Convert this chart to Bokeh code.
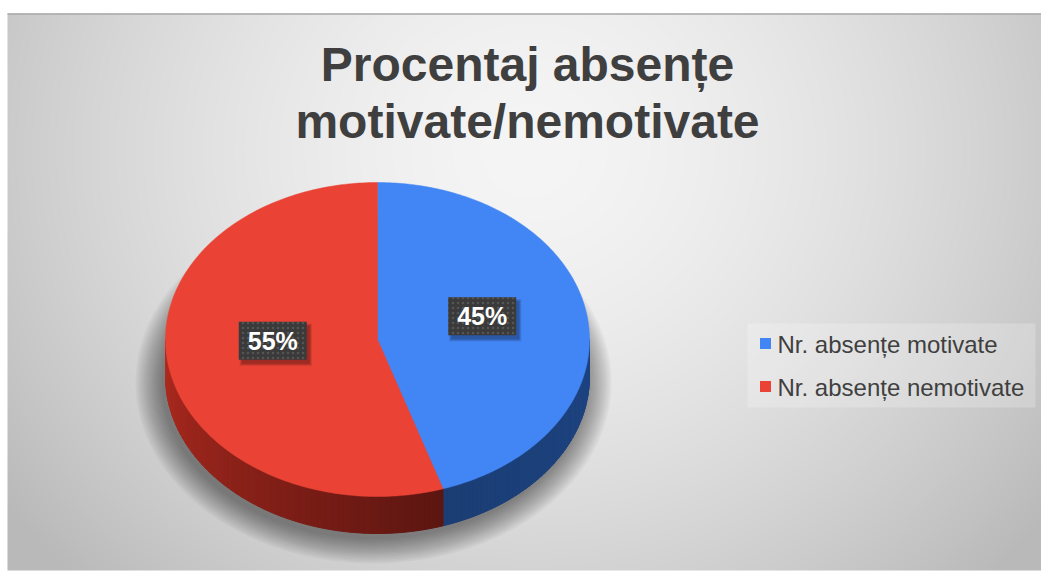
import numpy as np
from bokeh.plotting import figure
from bokeh.models import Range1d
from bokeh.embed import file_html
from bokeh.resources import INLINE
from bokeh.core.properties import value

W, H = 1041, 571

# ---- data ----
categories = ["Nr. absențe motivate", "Nr. absențe nemotivate"]
shares = [45, 55]
share_labels = ["45%", "55%"]
top_colors = ["#4285F4", "#EA4335"]
side_near = ["#1b3e75", "#5c1611"]   # side colour next to the slice boundary
side_far = ["#1e4482", "#b02b20"]    # side colour towards the outer end
title_lines = ["Procentaj absențe", "motivate/nemotivate"]

FONT = value("Liberation Sans")
TEXT_GREY = "#3f3f3f"


def sy(y):
    """screen-style (top-down) y to data y"""
    return H - np.asarray(y, dtype=float)


p = figure(width=W, height=H, x_range=Range1d(0, W), y_range=Range1d(0, H),
           output_backend="svg", toolbar_location=None, min_border=0)
p.axis.visible = False
p.grid.visible = False
p.outline_line_color = None
p.background_fill_color = "white"
p.border_fill_color = "white"

# ---- chart area background: soft radial grey gradient ----
x0, x1, ytop, ybot = 7, W, 13, 570
nx, ny = x1 - x0, ybot - ytop
xs = x0 + np.arange(nx) + 0.5
ys_screen = ybot - (np.arange(ny) + 0.5)          # row 0 sits at the bottom
gx, gy = np.meshgrid(xs, ys_screen)
t = np.sqrt(((gx - 530) / 560.0) ** 2 + ((gy - 150) / 520.0) ** 2)
shade = np.clip(245 - 47 * np.clip(t, 0, 1.3) ** 1.6, 185, 250).astype(np.uint8)
img = np.empty((ny, nx), dtype=np.uint32)
view = img.view(dtype=np.uint8).reshape((ny, nx, 4))
view[..., 0] = shade
view[..., 1] = shade
view[..., 2] = shade
view[..., 3] = 255
p.image_rgba(image=[img], x=x0, y=float(sy(ybot)), dw=nx, dh=ny)
p.line([x0, x1], [float(sy(ytop + 0.5))] * 2, line_color="#a9a9a9", line_width=1.5)

# ---- 3D pie geometry ----
cx, cy, rx, ry, depth = 377.0, 339.0, 212.0, 157.0, 37.0
fr = np.array(shares, dtype=float) / sum(shares)
ends = np.cumsum(fr)
starts = ends - fr


def rim(turn):
    a = 2 * np.pi * np.asarray(turn)
    return cx + rx * np.sin(a), cy - ry * np.cos(a)


# soft drop shadow below the pie
for k in range(14):
    f = k / 13.0
    p.ellipse(x=cx - 4, y=float(sy(cy + depth + 6)), width=2 * (rx + 26 - 26 * f),
              height=2 * (ry + 24 - 24 * f), fill_color="black", fill_alpha=0.035,
              line_color=None)

# visible side walls (front half of the rim)
for i in range(len(shares)):
    a0, a1 = max(starts[i], 0.25), min(ends[i], 0.75)
    if a1 <= a0:
        continue
    n = 60
    tt = np.linspace(a0, a1, n + 1)
    px, py = rim(tt)
    near = np.array([int(side_near[i][j:j + 2], 16) for j in (1, 3, 5)], float)
    far = np.array([int(side_far[i][j:j + 2], 16) for j in (1, 3, 5)], float)
    xs_list, ys_list, cols = [], [], []
    for j in range(n):
        mid = 0.5 * (tt[j] + tt[j + 1])
        w = (mid - a0) / (a1 - a0)
        if i == 0:
            w = 1 - w
        c = near + (far - near) * w
        cols.append("#%02x%02x%02x" % tuple(int(v) for v in c))
        xs_list.append([px[j], px[j + 1], px[j + 1], px[j]])
        ys_list.append(list(sy([py[j], py[j + 1], py[j + 1] + depth, py[j] + depth])))
    p.patches(xs_list, ys_list, fill_color=cols, line_color=cols, line_width=1)

# top faces
for i in range(len(shares)):
    tt = np.linspace(starts[i], ends[i], 200)
    px, py = rim(tt)
    X = np.concatenate([[cx], px])
    Y = sy(np.concatenate([[cy], py]))
    p.patch(X, Y, fill_color=top_colors[i], line_color=top_colors[i], line_width=0.5)

# ---- data labels in dark boxes ----
mids = starts + fr / 2
lx, ly = rim(mids)
lx = cx + (lx - cx) * 0.5
ly = (cy - 11) + (ly - cy) * 0.5
for k in range(3):
    p.rect(x=lx + 3, y=sy(ly + 4), width=68 + 4 - 2 * k, height=38 + 4 - 2 * k,
           fill_color="black", fill_alpha=0.12, line_color=None)
p.rect(x=lx, y=sy(ly), width=68, height=38, fill_color="#3a3a3a", line_color=None,
       hatch_pattern=".", hatch_color="#555555", hatch_scale=5, hatch_weight=1.5)
p.text(x=lx, y=sy(ly), text=share_labels, text_font=FONT, text_font_style="bold",
       text_font_size="25px", text_color="white", text_align="center",
       text_baseline="middle")

# ---- legend ----
p.quad(left=747, right=1035, top=float(sy(323)), bottom=float(sy(407)),
       fill_color="white", fill_alpha=0.22, line_color=None)
leg_y = np.array([343.0, 386.0])
p.rect(x=[765, 765], y=sy(leg_y), width=11, height=11, fill_color=top_colors,
       line_color=None)
p.text(x=[777, 777], y=sy(leg_y + 1), text=categories, text_font=FONT,
       text_font_size="24px", text_color=TEXT_GREY, text_align="left",
       text_baseline="middle")

# ---- title ----
p.text(x=[527, 527], y=sy([64, 121]), text=title_lines, text_font=FONT,
       text_font_style="bold", text_font_size="48px", text_color=TEXT_GREY,
       text_align="center", text_baseline="middle")

open("out.html", "w").write(file_html(p, INLINE))
